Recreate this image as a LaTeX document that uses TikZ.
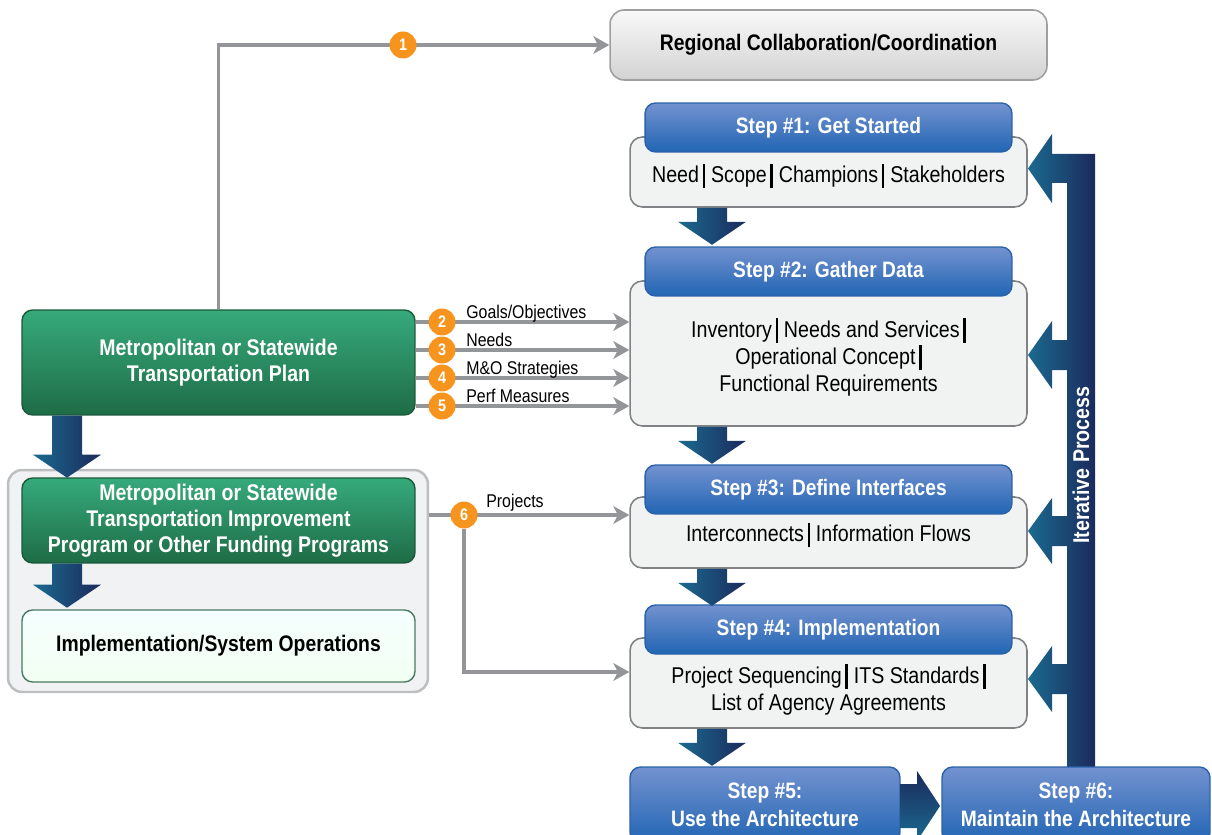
\documentclass[tikz,border=0pt]{standalone}
\usepackage{fontspec}
\setmainfont{Liberation Sans}[FakeStretch=0.86]
\usetikzlibrary{positioning,arrows.meta}
\definecolor{grline}{HTML}{939598}
\definecolor{orng}{HTML}{F7941D}
\definecolor{arrL}{HTML}{1B6A8F}
\definecolor{arrR}{HTML}{1B2A5C}
\definecolor{hdTop}{HTML}{7392CF}
\definecolor{hdBot}{HTML}{2165B4}
\definecolor{hdLine}{HTML}{2A62AA}
\definecolor{gnTop}{HTML}{36AA7B}
\definecolor{gnBot}{HTML}{1E6C46}
\definecolor{gnLine}{HTML}{1A5A3A}
\definecolor{bodyFill}{HTML}{F1F2F2}
\definecolor{bodyLine}{HTML}{808285}
\definecolor{outerFill}{HTML}{F1F2F4}
\definecolor{outerLine}{HTML}{BCBEC0}
\newcommand{\sepbar}{\hspace{0.16em}\rule[-0.24em]{1.4pt}{1.08em}\hspace{0.26em}}
\begin{document}
\begin{tikzpicture}[x=0.02cm, y=-0.02cm,
  conn/.style={draw=grline, line width=2.2pt, -{Stealth[length=9pt,width=10pt,inset=2.5pt]}},
  num/.style={circle, fill=orng, minimum size=0.54cm, inner sep=0pt, text=white, font=\bfseries\fontsize{9.5}{10}\selectfont},
  lab/.style={inner sep=0pt, font=\fontsize{10.5}{12}\selectfont},
  step head/.style={rounded corners=6pt, top color=hdTop, bottom color=hdBot, draw=hdLine, line width=0.8pt,
    minimum width=7.34cm, minimum height=0.98cm, text=white, font=\bfseries\fontsize{12.7}{15.6}\selectfont},
  step body/.style={rounded corners=7pt, fill=bodyFill, draw=bodyLine, line width=0.9pt, minimum width=7.94cm},
  body text/.style={align=center, inner sep=0pt, font=\fontsize{13}{15.6}\selectfont},
  green node/.style={rounded corners=6pt, top color=gnTop, bottom color=gnBot, draw=gnLine, line width=0.8pt,
    minimum width=7.86cm, align=center, text=white, font=\bfseries\fontsize{12.9}{14.8}\selectfont},
  dnarrow/.pic={\shade[left color=arrL, right color=arrR]
    (-15,0) -- (15,0) -- (15,#1) -- (34,#1) -- (0,#1+23) -- (-34,#1) -- (-15,#1) -- cycle;}]
\useasboundingbox (0,0) rectangle (1212,834);
\clip (0,0) rectangle (1212,834);

% top box
\node[rounded corners=8pt, top color=white!95!gray, bottom color=gray!35, draw=gray!75, line width=0.9pt,
  minimum width=8.74cm, minimum height=1.4cm, font=\bfseries\fontsize{12.8}{15}\selectfont] (reg) at (828.5,45)
  {Regional Collaboration/Coordination};

% left side
\node[green node, minimum height=2.1cm] (g1) at (218.5,362.5) {Metropolitan or Statewide\\Transportation Plan};
\node[rounded corners=8pt, fill=outerFill, draw=outerLine, line width=1.4pt,
  minimum width=8.4cm, minimum height=4.44cm] (outer) at (218,581) {};
\node[green node, minimum height=1.7cm] (g2) at (218.5,520.5)
  {Metropolitan or Statewide\\Transportation Improvement\\Program or Other Funding Programs};
\node[rounded corners=6pt, top color=white!96!cyan, bottom color=green!5!white, draw=gnLine!80, line width=0.8pt,
  minimum width=7.86cm, minimum height=1.44cm, font=\bfseries\fontsize{12.8}{15}\selectfont] (impl) at (218.5,646)
  {Implementation/System Operations};
\pic at (g1.south -| 67,0) {dnarrow=39};
\pic at (g2.south -| 67,0) {dnarrow=21};

% steps
\node[step body, minimum height=1.4cm] (b1) at (828.5,172) {};
\node[step body, minimum height=2.9cm] (b2) at (828.5,353.5) {};
\node[step body, minimum height=1.42cm] (b3) at (828.5,532.5) {};
\node[step body, minimum height=1.8cm] (b4) at (828.5,683) {};
\node[body text] (t1) at ([yshift=-2.2pt]b1.center) {Need\sepbar Scope\sepbar Champions\sepbar Stakeholders};
\node[body text] (t2) at ([yshift=-2.2pt]b2.center)
  {Inventory\sepbar Needs and Services\sepbar\\Operational Concept\sepbar\\Functional Requirements};
\node[body text] (t3) at ([yshift=-1.5pt]b3.center) {Interconnects\sepbar Information Flows};
\node[body text] (t4) at ([yshift=-4pt]b4.center) {Project Sequencing\sepbar ITS Standards\sepbar\\List of Agency Agreements};
\node[step head] (h1) at (828.5,127.5) {Step \#1: Get Started};
\node[step head] (h2) at (828.5,271.5) {Step \#2: Gather Data};
\node[step head] (h3) at (828.5,489.5) {Step \#3: Define Interfaces};
\node[step head] (h4) at (828.5,629.5) {Step \#4: Implementation};

\pic at (b1.south -| 712,0) {dnarrow=14};
\pic at (b2.south -| 712,0) {dnarrow=14};
\pic at (b3.south -| 712,0) {dnarrow=14};
\pic at (b4.south -| 712,0) {dnarrow=14};

% iterative process bar
\shade[left color=arrL, right color=arrR]
  (1095,154) -- (1095,770) -- (1067,770)
  -- (1067,694) -- (1052,694) -- (1052,712) -- (1028,679) -- (1052,646) -- (1052,664) -- (1067,664)
  -- (1067,546) -- (1052,546) -- (1052,564) -- (1028,531) -- (1052,498) -- (1052,516) -- (1067,516)
  -- (1067,370) -- (1052,370) -- (1052,389) -- (1028,355) -- (1052,321) -- (1052,340) -- (1067,340)
  -- (1067,183) -- (1052,183) -- (1052,203) -- (1028,168.5) -- (1052,134) -- (1052,154) -- cycle;
\node[rotate=90, text=white, font=\bfseries\fontsize{13}{15}\selectfont] (iter) at (1081,465) {Iterative Process};

\node[step head, minimum width=5.4cm, minimum height=1.52cm, align=center] (s5) at (765,805)
  {Step \#5:\\Use the Architecture};
\node[step head, minimum width=5.36cm, minimum height=1.52cm, align=center] (s6) at (1076,805)
  {Step \#6:\\Maintain the Architecture};
\shade[top color=arrR, bottom color=arrL]
  (s5.east |- 0,784) -- (917,784) -- (917,771) -- (940,806) -- (917,841) -- (917,828) -- (s5.east |- 0,828) -- cycle;

% gray connectors
\draw[conn] (g1.north) |- (reg.west);
\node[num] (n1) at (403,45) {1};
\foreach \yy/\nn/\lab in {322/2/{Goals/Objectives},350/3/Needs,378/4/{M\&O Strategies},406/5/{Perf Measures}}{
  \draw[conn] (g1.east |- 0,\yy) -- (b2.west |- 0,\yy);
  \node[num] (n\nn) at (442,\yy) {\nn};
  \node[lab, anchor=base west] (l\nn) at (466,\yy-4) {\lab};
}
\draw[conn] (outer.east |- 0,515) -- (b3.west |- 0,515);
\node[num] (n6) at (464,515) {6};
\draw[conn] (n6.south) |- (b4.west |- 0,672);
\node[lab, anchor=base west] (l6) at (486,507) {Projects};
\end{tikzpicture}
\end{document}
